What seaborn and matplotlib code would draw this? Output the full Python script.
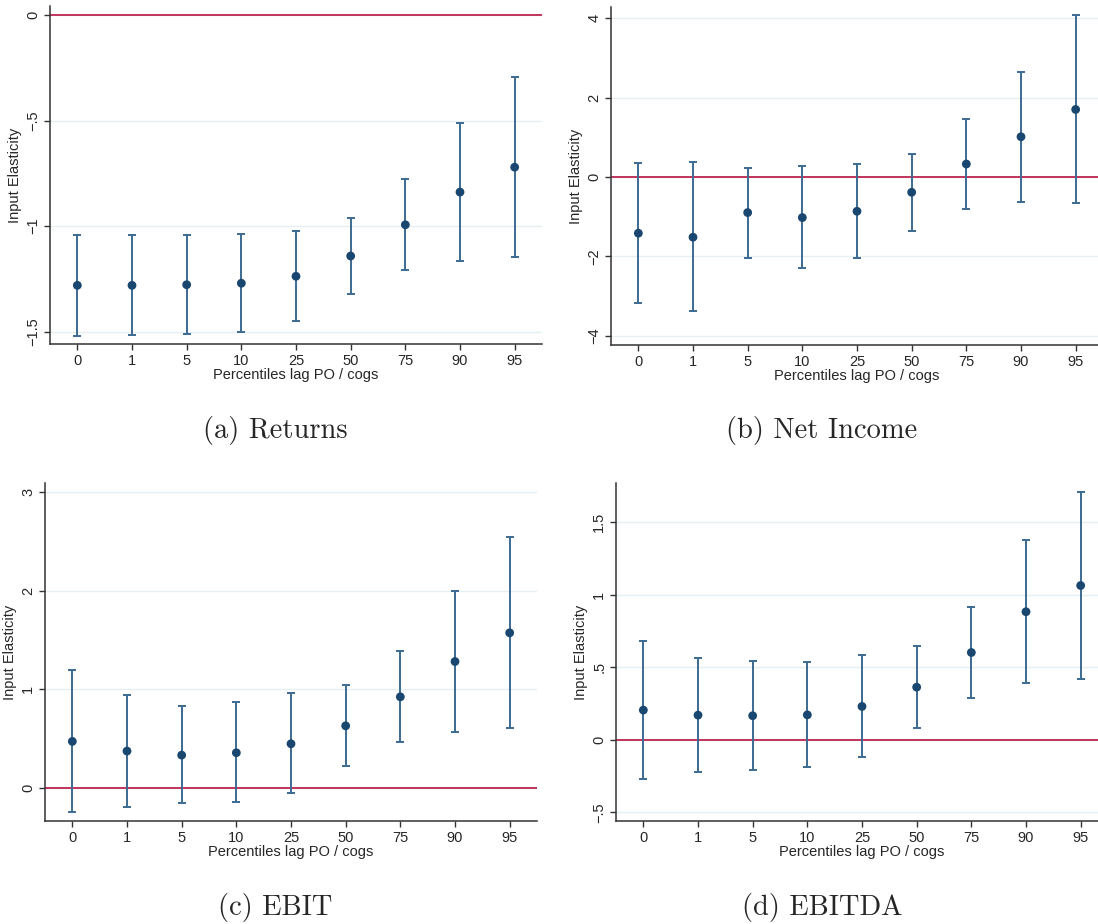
import matplotlib
matplotlib.use("Agg")
import matplotlib.pyplot as plt
import matplotlib.ticker as mticker
import seaborn as sns

# Set style
sns.set_theme(style="white")
plt.rcParams['font.family'] = ['Liberation Sans', 'DejaVu Sans']

# Percentile categories on the x axis
percentiles = ['0', '1', '5', '10', '25', '50', '75', '90', '95']

# (a) Returns
returns_pt = [-1.281, -1.281, -1.278, -1.271, -1.238, -1.142, -0.994, -0.839, -0.721]
returns_lo = [-1.519, -1.517, -1.513, -1.502, -1.451, -1.320, -1.207, -1.164, -1.148]
returns_hi = [-1.043, -1.043, -1.041, -1.039, -1.025, -0.964, -0.778, -0.511, -0.293]

# (b) Net Income
netinc_pt = [-1.415, -1.516, -0.896, -1.022, -0.863, -0.385, 0.327, 1.013, 1.700]
netinc_lo = [-3.166, -3.384, -2.027, -2.303, -2.044, -1.348, -0.804, -0.620, -0.662]
netinc_hi = [0.343, 0.369, 0.235, 0.285, 0.335, 0.586, 1.466, 2.647, 4.070]

# (c) EBIT
ebit_pt = [0.470, 0.372, 0.331, 0.355, 0.446, 0.628, 0.922, 1.280, 1.571]
ebit_lo = [-0.250, -0.196, -0.159, -0.149, -0.054, 0.216, 0.466, 0.568, 0.601]
ebit_hi = [1.189, 0.943, 0.828, 0.865, 0.956, 1.044, 1.382, 1.993, 2.544]

# (d) EBITDA
ebitda_pt = [0.205, 0.170, 0.166, 0.172, 0.230, 0.363, 0.602, 0.883, 1.064]
ebitda_lo = [-0.271, -0.223, -0.207, -0.189, -0.120, 0.083, 0.287, 0.395, 0.421]
ebitda_hi = [0.683, 0.566, 0.540, 0.538, 0.582, 0.648, 0.917, 1.375, 1.710]

captions = ['(a) Returns', '(b) Net Income', '(c) EBIT', '(d) EBITDA']

POINT_COLOR = '#1a476f'
BAR_COLOR = '#3b6a92'
ZERO_COLOR = '#c0345a'
GRID_COLOR = '#e6eff1'
SPINE_COLOR = '#333333'

W, H = 1098, 924


def stata_fmt(v, pos=None):
    # Stata-style labels: no leading zero, long minus
    s = f"{v:g}"
    if s.startswith('0.'):
        s = s[1:]
    elif s.startswith('-0.'):
        s = '-' + s[2:]
    return s.replace('-', '\u2212')


def draw_panel(fig, rect_px, pt, lo, hi, ylim, yticks):
    left, top, right, bottom = rect_px
    ax = fig.add_axes([left / W, 1 - bottom / H, (right - left) / W, (bottom - top) / H])
    yerr = [[p - l for p, l in zip(pt, lo)], [h - p for p, h in zip(pt, hi)]]
    ax.errorbar(percentiles, pt, yerr=yerr, fmt='none', ecolor=BAR_COLOR,
                elinewidth=1.4, capsize=3, capthick=1.4, zorder=2)
    sns.scatterplot(x=percentiles, y=pt, color=POINT_COLOR, s=40,
                    edgecolor='none', ax=ax, zorder=3)
    ax.axhline(0, color=ZERO_COLOR, lw=1.4, zorder=1)
    ax.set_xlim(-0.5, 8.5)
    ax.set_ylim(*ylim)
    ax.set_yticks(yticks)
    ax.yaxis.set_major_formatter(mticker.FuncFormatter(stata_fmt))
    ax.grid(axis='y', color=GRID_COLOR, lw=1.0, zorder=0)
    ax.grid(axis='x', visible=False)
    for side in ['top', 'right']:
        ax.spines[side].set_visible(False)
    for side in ['left', 'bottom']:
        ax.spines[side].set_color(SPINE_COLOR)
        ax.spines[side].set_linewidth(1.1)
    ax.tick_params(axis='both', direction='out', length=4, width=1.0,
                   color=SPINE_COLOR, labelsize=10.5, pad=3,
                   left=True, bottom=True)
    for lab in ax.get_yticklabels():
        lab.set_rotation(90)
        lab.set_va('center')
    ax.set_xlabel('Percentiles lag PO / cogs', fontsize=10.5, labelpad=0)
    ax.set_ylabel('Input Elasticity', fontsize=10.5, labelpad=3)
    return ax


fig = plt.figure(figsize=(W / 100, H / 100), dpi=100)

draw_panel(fig, (50, 6, 542, 344), returns_pt, returns_lo, returns_hi,
           (-1.559, 0.043), [-1.5, -1, -0.5, 0])
draw_panel(fig, (611, 7, 1103, 345), netinc_pt, netinc_lo, netinc_hi,
           (-4.23, 4.28), [-4, -2, 0, 2, 4])
draw_panel(fig, (45, 483, 537, 821), ebit_pt, ebit_lo, ebit_hi,
           (-0.337, 3.09), [0, 1, 2, 3])
draw_panel(fig, (616, 483, 1108, 821), ebitda_pt, ebitda_lo, ebitda_hi,
           (-0.56, 1.771), [-0.5, 0, 0.5, 1, 1.5])

for cap, (cx, cy) in zip(captions, [(275, 430), (822, 430), (275, 907), (822, 907)]):
    fig.text(cx / W, 1 - cy / H, cap, ha='center', va='center',
             fontsize=20.5, family='cmr10')

fig.savefig('out.png', dpi=100)
